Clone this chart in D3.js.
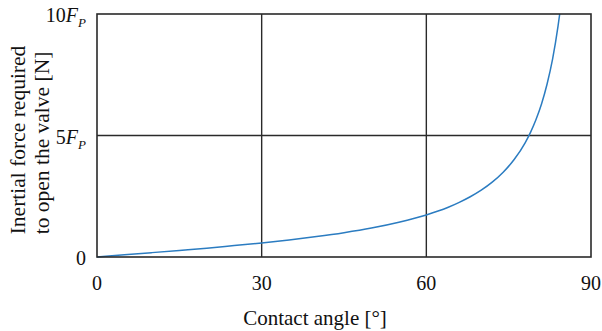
<!DOCTYPE html>
<html>
<head>
<meta charset="utf-8">
<script src="https://cdn.jsdelivr.net/npm/d3@7"></script>
<style>
  html, body { margin: 0; padding: 0; background: #fff; }
  svg { display: block; font-family: "Liberation Serif", "Times New Roman", serif; }
</style>
</head>
<body>
<svg id="chart" width="602" height="331"></svg>
<script>
// Contact angle [deg] and the inertial force needed to open the valve (multiples of F_P)
const angles = [0, 5, 10, 15, 20, 25, 30, 35, 40, 45, 50, 55, 60, 62, 64, 66, 68, 70, 72, 74, 76, 78, 79, 80, 81, 82, 83, 84, 84.3];
const force  = [0, 0.09, 0.18, 0.27, 0.36, 0.47, 0.58, 0.70, 0.84, 1.0, 1.19, 1.43, 1.73, 1.88, 2.05, 2.25, 2.48, 2.75, 3.08, 3.49, 4.01, 4.70, 5.14, 5.67, 6.31, 7.12, 8.14, 9.51, 10.0];

const xTicks = [0, 30, 60, 90];
const yTicks = [0, 5, 10];

const svg = d3.select("#chart");
const m = { left: 97, right: 591, top: 14, bottom: 257 };

const x = d3.scaleLinear().domain([0, 90]).range([m.left, m.right]);
const y = d3.scaleLinear().domain([0, 10]).range([m.bottom, m.top]);

const ink = "#2a2a2a";

// grid lines
svg.append("g").selectAll("line")
  .data(xTicks.slice(1, -1)).join("line")
  .attr("x1", d => x(d)).attr("x2", d => x(d))
  .attr("y1", m.top).attr("y2", m.bottom)
  .attr("stroke", ink).attr("stroke-width", 1.4);
svg.append("g").selectAll("line")
  .data(yTicks.slice(1, -1)).join("line")
  .attr("x1", m.left).attr("x2", m.right)
  .attr("y1", d => y(d)).attr("y2", d => y(d))
  .attr("stroke", ink).attr("stroke-width", 1.4);

// curve
const pts = angles.map((a, i) => [a, force[i]]);
svg.append("path")
  .datum(pts)
  .attr("fill", "none")
  .attr("stroke", "#2b7cc1")
  .attr("stroke-width", 1.5)
  .attr("d", d3.line().x(d => x(d[0])).y(d => y(d[1])).curve(d3.curveMonotoneX));

// frame
svg.append("rect")
  .attr("x", m.left).attr("y", m.top)
  .attr("width", m.right - m.left).attr("height", m.bottom - m.top)
  .attr("fill", "none").attr("stroke", ink).attr("stroke-width", 1.6);

// x tick labels
svg.append("g").selectAll("text")
  .data(xTicks).join("text")
  .attr("x", d => x(d)).attr("y", 290)
  .attr("text-anchor", "middle")
  .attr("font-size", 20).attr("fill", "#111")
  .text(d => d);

// y tick labels
const yl = svg.append("g").selectAll("text")
  .data(yTicks).join("text")
  .attr("x", 86).attr("y", d => y(d) + 8)
  .attr("text-anchor", "end")
  .attr("font-size", 20).attr("fill", "#111");
yl.each(function(d) {
  const t = d3.select(this);
  if (d === 0) { t.text("0"); return; }
  t.append("tspan").text(d);
  t.append("tspan").attr("font-style", "italic").text("F");
  t.append("tspan").attr("font-style", "italic").attr("font-size", 13).attr("dy", 5).text("P");
});

// axis titles
svg.append("text")
  .attr("x", 315).attr("y", 325)
  .attr("text-anchor", "middle")
  .attr("font-size", 21).attr("fill", "#111")
  .text("Contact angle [°]");

const yt = svg.append("text")
  .attr("transform", "translate(25,140) rotate(-90)")
  .attr("text-anchor", "middle")
  .attr("font-size", 21.5).attr("fill", "#111");
yt.append("tspan").attr("x", 0).attr("dy", 0).text("Inertial force required");
yt.append("tspan").attr("x", -3).attr("dy", 24).text("to open the valve [N]");
</script>
</body>
</html>
